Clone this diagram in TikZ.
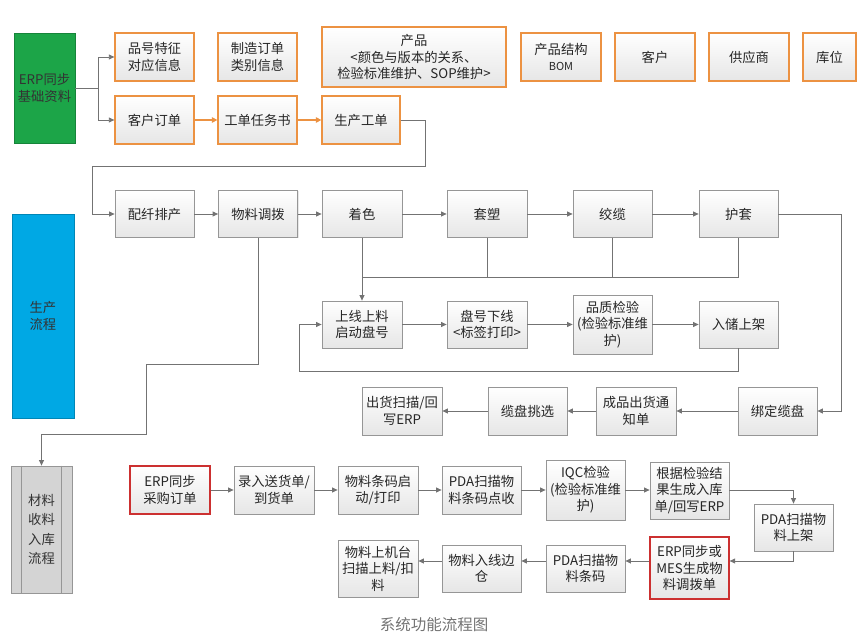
\documentclass[tikz,border=0pt]{standalone}
\usepackage{fontspec}
\setmainfont{Noto Sans CJK SC}
\usetikzlibrary{arrows.meta, shadows}

\definecolor{boxline}{RGB}{150,150,150}
\definecolor{linegray}{RGB}{115,115,115}
\definecolor{orangeline}{RGB}{236,146,66}
\definecolor{redline}{RGB}{204,48,48}
\definecolor{erpgreen}{RGB}{28,165,72}
\definecolor{flowblue}{RGB}{0,168,228}
\definecolor{sidegray}{RGB}{212,212,212}
\definecolor{boxfill}{RGB}{230,230,230}

\begin{document}
\begin{tikzpicture}[
  x=1pt, y=-1pt,
  box/.style={draw=boxline, line width=0.8pt, top color=white, bottom color=boxfill,
    drop shadow={opacity=0.18, shadow xshift=1pt, shadow yshift=-1pt},
    minimum width=79pt, minimum height=47pt, inner sep=1pt, align=center,
    text=black!85, font=\fontsize{13.3}{16.5}\selectfont},
  obox/.style={box, draw=orangeline, line width=1.3pt},
  rbox/.style={box, draw=redline, line width=1.3pt},
  side/.style={minimum width=61pt, inner sep=1pt, align=center, text=black!80,
    font=\fontsize{13.3}{17}\selectfont},
  flow/.style={draw=linegray, line width=0.8pt, -{Triangle[length=5.5pt, width=5pt]}},
  oflow/.style={draw=orangeline, line width=1.3pt, -{Triangle[length=5.5pt, width=5.5pt]}},
  link/.style={draw=linegray, line width=0.8pt},
]
  \useasboundingbox (0,0) rectangle (868,644);

  % 左侧分类
  \node[side, fill=erpgreen, draw=erpgreen!80!black, minimum height=110pt] (erp) at (44.5,88) {ERP同步\\基础资料};
  \node[side, fill=flowblue, draw=flowblue!80!black, minimum width=62pt, minimum height=204pt] (sclc) at (43,316) {生产\\流程};
  \node[side, fill=sidegray, draw=boxline, line width=0.8pt, minimum height=127pt,
        font=\fontsize{13.3}{19.5}\selectfont] (clsl) at (41.5,529.5) {材料\\收料\\入库\\流程};
  \draw[boxline, line width=0.8pt] ([xshift=11pt]clsl.north west) -- ([xshift=11pt]clsl.south west);
  \draw[boxline, line width=0.8pt] ([xshift=-11pt]clsl.north east) -- ([xshift=-11pt]clsl.south east);

  % 基础资料
  \node[obox, minimum height=48pt] (pinhao) at (154.5,57) {品号特征\\对应信息};
  \node[obox, minimum height=48pt] (zhizao) at (257.5,57) {制造订单\\类别信息};
  \node[obox, minimum width=184pt, minimum height=60pt] (chanpin) at (414,57) {产品\\<颜色与版本的关系、\\检验标准维护、SOP维护>};
  \node[obox, minimum width=80pt, minimum height=48pt] (bom) at (561,57) {产品结构\\{\fontsize{11}{13}\selectfont BOM}};
  \node[obox, minimum width=80pt, minimum height=48pt] (kehu) at (655,57) {客户};
  \node[obox, minimum width=80pt, minimum height=48pt] (gys) at (749,57) {供应商};
  \node[obox, minimum width=53pt, minimum height=48pt] (kuwei) at (829.5,57) {库位};

  \node[obox, minimum height=48pt] (khdd) at (154.5,120) {客户订单};
  \node[obox, minimum height=48pt] (gdrws) at (257.5,120) {工单任务书};
  \node[obox, minimum width=78pt, minimum height=48pt] (scgd) at (361,120) {生产工单};

  % 生产流程
  \node[box] (pxpc) at (154.5,214) {配纤排产};
  \node[box] (wldb) at (258,214) {物料调拨};
  \node[box, minimum width=80pt] (zhuose) at (362,214) {着色};
  \node[box, minimum width=80pt] (taosu) at (487,214) {套塑};
  \node[box] (jiaolan) at (612.5,214) {绞缆};
  \node[box] (hutao) at (738.5,214) {护套};

  \node[box, minimum width=80pt] (sxsl) at (362,324.5) {上线上料\\启动盘号};
  \node[box, minimum width=80pt] (pxhx) at (487,324.5) {盘号下线\\<标签打印>};
  \node[box, minimum height=59pt] (pzjy) at (612.5,324.5) {品质检验\\(检验标准维\\护)};
  \node[box] (rcsj) at (738.5,324.5) {入储上架};

  \node[box, minimum width=80pt, minimum height=48pt] (chsm) at (402,411) {出货扫描/回\\写ERP};
  \node[box, minimum height=48pt] (lptx) at (527.5,411) {缆盘挑选};
  \node[box, minimum width=80pt, minimum height=48pt] (cpch) at (636,411) {成品出货通\\知单};
  \node[box, minimum height=48pt] (bdlp) at (777.5,411) {绑定缆盘};

  % 材料收料入库
  \node[rbox, minimum width=80pt, minimum height=48pt] (cgdd) at (170,490) {ERP同步\\采购订单};
  \node[box, minimum width=80pt, minimum height=48pt] (lrsh) at (274,490) {录入送货单/\\到货单};
  \node[box, minimum width=80pt, minimum height=48pt] (tmqd) at (378,490) {物料条码启\\动/打印};
  \node[box, minimum height=48pt] (pdadj) at (481.5,490) {PDA扫描物\\料条码点收};
  \node[box, minimum height=60pt] (iqc) at (585.5,490) {IQC检验\\(检验标准维\\护)};
  \node[box, minimum height=57pt] (gjjg) at (689.5,490.5) {根据检验结\\果生成入库\\单/回写ERP};
  \node[box] (pdasj) at (793.5,527.5) {PDA扫描物\\料上架};

  \node[rbox, minimum height=62pt] (mes) at (689.5,568) {ERP同步或\\MES生成物\\料调拨单};
  \node[box] (pdatm) at (585.5,568.5) {PDA扫描物\\料条码};
  \node[box] (wlrx) at (481.5,568.5) {物料入线边\\仓};
  \node[box, minimum width=80pt, minimum height=57pt] (wlsj) at (378,568.5) {物料上机台\\扫描上料/扣\\料};

  % 转折点
  \coordinate (fork) at (98,88);
  \coordinate (scturn) at (425,166);
  \coordinate (pxturn) at (92,166);
  \coordinate (htturn) at (841,411);
  \coordinate (merge) at (0,277);
  \coordinate (loopl) at (299,371);
  \coordinate (wlA) at (146,364);
  \coordinate (wlB) at (41.5,434);
  \coordinate (row7) at (0,561);

  % 基础资料连线
  \draw[link] (erp.east) -- (fork);
  \draw[flow] (fork) |- (pinhao.west);
  \draw[flow] (fork) |- (khdd.west);
  \draw[oflow] (khdd) -- (gdrws);
  \draw[oflow] (gdrws) -- (scgd);
  \draw[flow] (scgd.east) -| (scturn) -- (pxturn) |- (pxpc.west);

  % 生产流程连线
  \draw[flow] (pxpc) -- (wldb);
  \draw[flow] (wldb) -- (zhuose);
  \draw[flow] (zhuose) -- (taosu);
  \draw[flow] (taosu) -- (jiaolan);
  \draw[flow] (jiaolan) -- (hutao);
  \draw[flow] (hutao.east) -| (htturn) -- (bdlp.east);

  \draw[link] (hutao.south) |- (zhuose.south |- merge);
  \draw[link] (taosu.south) -- (taosu.south |- merge);
  \draw[link] (jiaolan.south) -- (jiaolan.south |- merge);
  \draw[flow] (zhuose.south) -- (sxsl.north);

  \draw[flow] (sxsl) -- (pxhx);
  \draw[flow] (pxhx) -- (pzjy);
  \draw[flow] (pzjy) -- (rcsj);
  \draw[flow] (rcsj.south) |- (loopl) |- (sxsl.west);

  \draw[flow] (bdlp) -- (cpch);
  \draw[flow] (cpch) -- (lptx);
  \draw[flow] (lptx) -- (chsm);

  \draw[flow] (wldb.south) |- (wlA) |- (wlB) -- (clsl.north);

  % 材料收料入库连线
  \draw[flow] (cgdd) -- (lrsh);
  \draw[flow] (lrsh) -- (tmqd);
  \draw[flow] (tmqd) -- (pdadj);
  \draw[flow] (pdadj) -- (iqc);
  \draw[flow] (iqc) -- (gjjg.west |- iqc);
  \draw[flow] (gjjg.east |- iqc) -| (pdasj.north);
  \draw[flow] (pdasj.south) |- (mes.east |- row7);
  \draw[flow] (mes.west |- row7) -- (pdatm.east |- row7);
  \draw[flow] (pdatm.west |- row7) -- (wlrx.east |- row7);
  \draw[flow] (wlrx.west |- row7) -- (wlsj.east |- row7);

  \node[text=black!55, font=\fontsize{15.5}{18}\selectfont] (caption) at (434,625) {系统功能流程图};
\end{tikzpicture}
\end{document}
